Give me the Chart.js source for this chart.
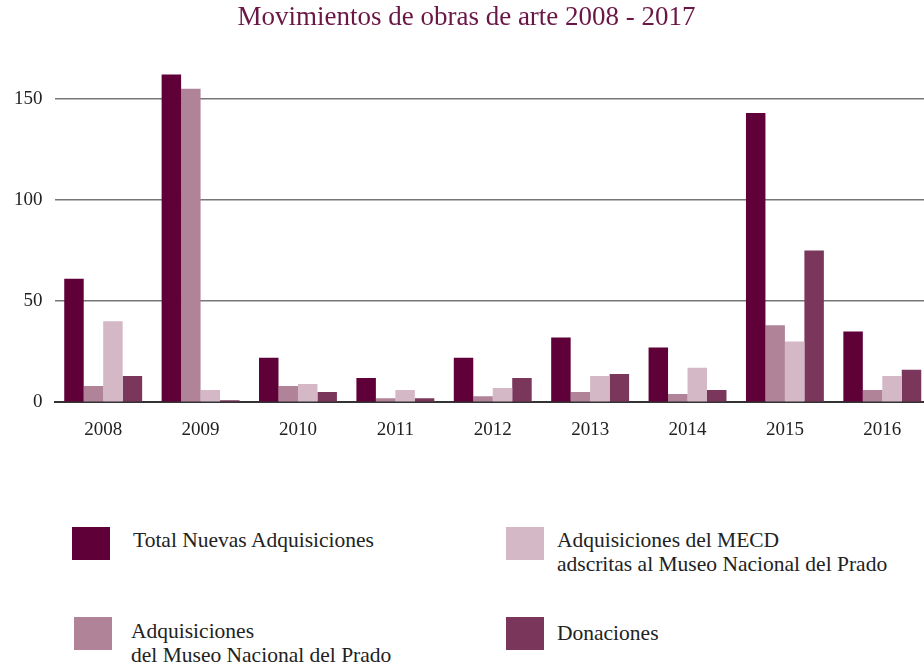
<!DOCTYPE html>
<html>
<head>
<meta charset="utf-8">
<script src="https://cdn.jsdelivr.net/npm/chart.js@4"></script>
<style>
  body { margin: 0; background: #fff; overflow: hidden; width: 924px; height: 669px; position: relative; }
  #wrap { position: absolute; left: 0; top: 0; width: 931px; height: 465px; }
  .leg { position: absolute; font-family: "Liberation Serif", serif; font-size: 21.5px; color: #222; line-height: 24px; }
  .sw { position: absolute; width: 38px; height: 33px; }
</style>
</head>
<body>
<div id="wrap"><canvas id="chart"></canvas></div>
<div id="legend"></div>
<script>
// datos
const years = ['2008', '2009', '2010', '2011', '2012', '2013', '2014', '2015', '2016']
const totalNuevas = [61, 162, 22, 12, 22, 32, 27, 143, 35]
const museoPrado = [8, 155, 8, 2, 3, 5, 4, 38, 6]
const mecd = [40, 6, 9, 6, 7, 13, 17, 30, 13]
const donaciones = [13, 1, 5, 2, 12, 14, 6, 75, 16]
const yTicks = [0, 50, 100, 150]

const serif = '"Liberation Serif", serif'

const chart = new Chart(document.getElementById('chart'), {
  type: 'bar',
  data: {
    labels: years,
    datasets: [{
      label: 'Total Nuevas Adquisiciones',
      data: totalNuevas,
      backgroundColor: '#5f0038'
    }, {
      label: 'Adquisiciones|del Museo Nacional del Prado',
      data: museoPrado,
      backgroundColor: '#b08399'
    }, {
      label: 'Adquisiciones del MECD|adscritas al Museo Nacional del Prado',
      data: mecd,
      backgroundColor: '#d4b8c6'
    }, {
      label: 'Donaciones',
      data: donaciones,
      backgroundColor: '#7b365b'
    }]
  },
  options: {
    responsive: true,
    maintainAspectRatio: false,
    animation: false,
    layout: { padding: { left: 2, right: 0, top: 0, bottom: 8 } },
    datasets: {
      bar: { categoryPercentage: 0.8, barPercentage: 1.0 }
    },
    plugins: {
      legend: { display: false },
      tooltip: { enabled: false },
      title: {
        display: true,
        text: 'Movimientos de obras de arte 2008 - 2017',
        color: '#6a1746',
        font: { family: serif, size: 27, weight: 'normal' },
        padding: { top: 2, bottom: 28 }
      }
    },
    scales: {
      x: {
        grid: { display: false, drawTicks: false },
        border: { display: true, color: '#333', width: 2 },
        ticks: { color: '#222', font: { family: serif, size: 19 }, padding: 16 }
      },
      y: {
        min: 0,
        max: 168,
        afterBuildTicks: (scale) => {
          scale.ticks = yTicks.map(v => ({ value: v }))
        },
        border: { display: false },
        grid: {
          color: (ctx) => ctx.tick && ctx.tick.value === 0 ? '#333' : '#777',
          lineWidth: 1.5,
          drawTicks: false
        },
        ticks: { color: '#222', font: { family: serif, size: 19 }, padding: 12 }
      }
    }
  }
})

// leyenda en HTML (etiquetas de dos lineas)
const legendPos = [
  { sx: 72, sy: 527, tx: 133, ty: 528 },
  { sx: 74, sy: 617, tx: 131, ty: 619 },
  { sx: 506, sy: 527, tx: 557, ty: 528 },
  { sx: 506, sy: 617, tx: 557, ty: 621 }
]
const legendEl = document.getElementById('legend')
chart.data.datasets.forEach((ds, i) => {
  const p = legendPos[i]
  const sw = document.createElement('div')
  sw.className = 'sw'
  sw.style.left = p.sx + 'px'
  sw.style.top = p.sy + 'px'
  sw.style.background = ds.backgroundColor
  legendEl.appendChild(sw)
  const t = document.createElement('div')
  t.className = 'leg'
  t.style.left = p.tx + 'px'
  t.style.top = p.ty + 'px'
  t.innerHTML = ds.label.split('|').join('<br>')
  legendEl.appendChild(t)
})
</script>
</body>
</html>
